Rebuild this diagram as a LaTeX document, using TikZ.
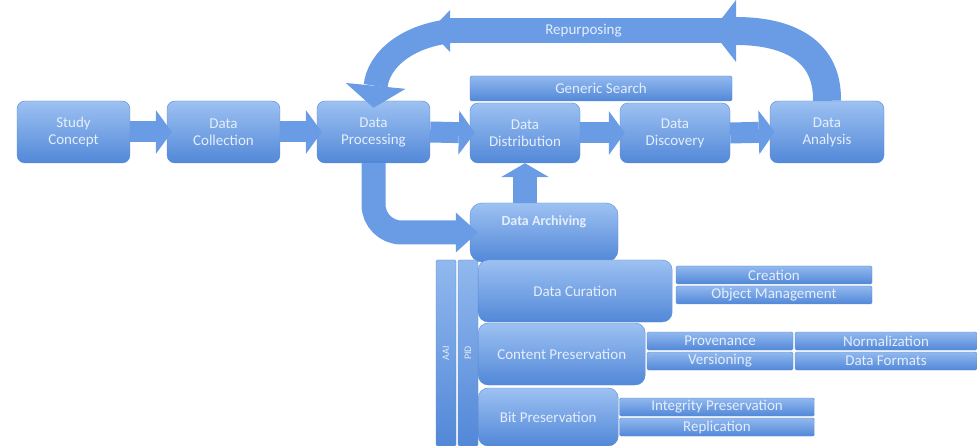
\documentclass[tikz,border=0pt]{standalone}
\usepackage{fontspec}
\setmainfont{Carlito}
\usetikzlibrary{arrows.meta, positioning}
\definecolor{boxtop}{HTML}{9DC1F2}
\definecolor{boxbot}{HTML}{5288D8}
\definecolor{boxline}{HTML}{5A8BD4}
\definecolor{flowblue}{HTML}{6A9CE5}
\definecolor{lbl}{HTML}{E4EEFC}
\tikzset{
  stage/.style={
    rectangle, draw=boxline, top color=boxtop, bottom color=boxbot,
    rounded corners=8pt, minimum width=113pt, minimum height=62pt,
    align=center, font=\fontsize{15}{17}\selectfont, text=lbl, inner sep=2pt,
  },
  layer/.style={stage, anchor=west, rounded corners=10pt, minimum height=62pt},
  strip/.style={
    rectangle, draw=boxline, top color=boxtop!85!boxbot, bottom color=boxbot,
    rounded corners=1.5pt, minimum height=18pt, inner sep=0pt,
    font=\fontsize{15}{17}\selectfont, text=lbl,
  },
  vbar/.style={strip, rotate=90, minimum width=186pt, minimum height=20pt,
    font=\fontsize{10}{12}\selectfont},
  flowarrow/.style={
    draw=flowblue, line width=21pt,
    -{Triangle[length=16pt 0 0, width=44pt 0 0, line width=0pt]},
  },
  bendarrow/.style={
    draw=flowblue, line width=24pt, rounded corners=28pt,
    -{Triangle[length=22pt 0 0, width=40pt 0 0, line width=0pt]},
  },
  looparrow/.style={
    draw=flowblue, line width=26pt,
    -{Triangle[length=22pt 0 0, width=60pt 0 0, line width=0pt]},
  },
  tlabel/.style={font=\fontsize{15}{17}\selectfont, text=lbl},
}

\begin{document}
\begin{tikzpicture}[x=1pt, y=-1pt]
  \useasboundingbox (0,0) rectangle (977,446);

  % main chain of stages
  \node[stage] (study)   at (73.5,132) {Study\\Concept};
  \node[stage] (collect) at (223.5,132) {Data\\Collection};
  \node[stage] (proc)    at (373.5,132) {Data\\Processing};
  \node[stage, minimum width=110pt, minimum height=60pt] (distrib) at (525,133) {Data\\Distribution};
  \node[stage, minimum width=110pt, minimum height=60pt] (discov)  at (675,133) {Data\\Discovery};
  \node[stage, minimum width=114pt] (anal) at (827,132) {Data\\Analysis};

  \node[strip, minimum width=262pt, minimum height=25pt] (search) at (601,88.5) {Generic Search};

  % archiving block
  \node[stage, minimum width=148pt, minimum height=59pt, text depth=24pt,
        font=\fontsize{14}{16}\selectfont\bfseries, rounded corners=12pt] (archive) at (544,232.5) {Data Archiving};
  \node[vbar] (aai) at (446,353) {AAI};
  \node[vbar] (pid) at (468,353) {PID};
  \node[layer, minimum width=194pt] (curation) at (478,291) {Data Curation};
  \node[layer, minimum width=167pt] (content)  at (478,354) {Content Preservation};
  \node[layer, minimum width=140pt, minimum height=58pt] (bit) at (478,417) {Bit Preservation};

  % services of each layer
  \node[strip, minimum width=196pt] (creation) at (774,275) {Creation};
  \node[strip, minimum width=196pt] (objmgmt)  at (774,295) {Object Management};
  \node[strip, minimum width=146pt] (prov)     at (720,341) {Provenance};
  \node[strip, minimum width=146pt] (vers)     at (720,361) {Versioning};
  \node[strip, minimum width=182pt] (norm)     at (886,341) {Normalization};
  \node[strip, minimum width=182pt] (formats)  at (886,361) {Data Formats};
  \node[strip, minimum width=195pt] (integ)    at (717,407) {Integrity Preservation};
  \node[strip, minimum width=195pt] (repl)     at (717,427) {Replication};

  % flow between stages
  \foreach \a/\b in {study/collect, collect/proc, proc/distrib, distrib/discov, discov/anal}
    \draw[flowarrow] (\a.east) -- ([xshift=5pt]\b.west);
  \draw[bendarrow] (proc.south) |- ([xshift=8pt]archive.west);
  \draw[flowarrow, line width=24pt, -{Triangle[length=14pt 0 0, width=48pt 0 0, line width=0pt]}]
    (archive.north -| distrib.south) -- (distrib.south);

  % repurposing loop
  \coordinate (rp-east) at (737,31);
  \coordinate (rp-west) at (430,31);
  \draw[looparrow, line width=24pt] (462,30) .. controls (405,33) and (378,62) .. ([yshift=-7pt]proc.north);
  \draw[draw=flowblue, line width=25pt, -{Triangle[length=20pt 0 0, width=42pt 0 0, line width=0pt]}]
    (rp-east) -- (rp-west) node[tlabel, pos=0.5] {Repurposing};
  \draw[looparrow, line width=28pt, -{Triangle[length=24pt 0 0, width=62pt 0 0, line width=0pt]}]
    (anal.north) .. controls (828,45) and (780,31) .. (712,31);

\end{tikzpicture}
\end{document}
